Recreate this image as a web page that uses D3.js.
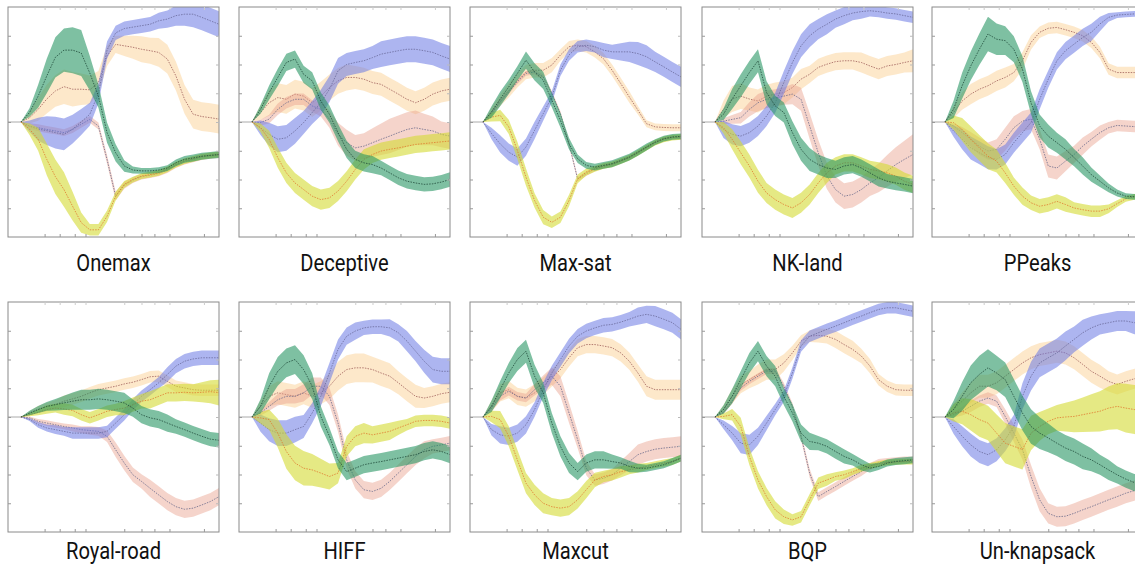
<!DOCTYPE html>
<html>
<head>
<meta charset="utf-8">
<script src="https://cdn.jsdelivr.net/npm/d3@7"></script>
<style>
  body { margin: 0; background: #fff; }
  svg { display: block; }
  .title { font-family: Roboto, "Liberation Sans", sans-serif; font-size: 24px; fill: #111; }
</style>
</head>
<body>
<div id="viz"></div>
<script>
// panel names, left to right, top row then bottom row
var panelNames = ['Onemax', 'Deceptive', 'Max-sat', 'NK-land', 'PPeaks',
                  'Royal-road', 'HIFF', 'Maxcut', 'BQP', 'Un-knapsack'];

// sample positions along the run (x axis, 0..98)
var xSteps = [6, 10, 14, 18, 22, 26, 30, 34, 38, 42, 46, 50, 54, 58, 62, 66, 70, 74, 78, 82, 86, 90, 94, 98];
var xTicks = [17, 24, 31, 36, 54, 62, 68, 75, 91];
var yTicks = [-3, -2, -1, 0, 1, 2, 3];

// mean curves, one row per panel (same order as panelNames)
var blueMean = [
  [0, -0.15, -0.25, -0.3, -0.37, -0.43, -0.25, 0, 0.27, 1.0, 2.5, 3.1, 3.25, 3.3, 3.35, 3.4, 3.52, 3.58, 3.7, 3.75, 3.75, 3.64, 3.52, 3.4],
  [0, -0.2, -0.43, -0.6, -0.55, -0.31, -0.02, 0.33, 0.67, 1.14, 1.78, 2.0, 2.07, 2.13, 2.24, 2.36, 2.42, 2.48, 2.53, 2.53, 2.48, 2.42, 2.3, 2.19],
  [0, -0.4, -0.76, -1.05, -1.22, -0.87, -0.29, 0.29, 0.87, 1.8, 2.33, 2.62, 2.67, 2.62, 2.5, 2.44, 2.44, 2.44, 2.38, 2.27, 2.09, 1.92, 1.74, 1.57],
  [0, -0.26, -0.43, -0.49, -0.37, -0.14, 0.21, 0.67, 1.37, 2.07, 2.65, 3.0, 3.23, 3.4, 3.58, 3.7, 3.79, 3.84, 3.87, 3.84, 3.79, 3.76, 3.7, 3.64],
  [0, -0.31, -0.6, -0.9, -1.07, -1.24, -1.3, -1.13, -0.72, -0.37, -0.02, 0.79, 1.49, 2.13, 2.48, 2.71, 2.94, 3.12, 3.41, 3.64, 3.72, 3.74, 3.76, 3.76],
  [0, -0.09, -0.27, -0.38, -0.44, -0.5, -0.56, -0.56, -0.56, -0.56, -0.5, -0.21, 0.08, 0.43, 0.72, 0.95, 1.19, 1.48, 1.77, 1.94, 2.02, 2.06, 2.06, 2.06],
  [0, -0.21, -0.44, -0.56, -0.56, -0.44, -0.33, 0.14, 0.72, 1.53, 2.35, 2.81, 2.99, 3.1, 3.14, 3.14, 3.1, 2.93, 2.64, 2.29, 1.94, 1.65, 1.59, 1.59],
  [0, -0.44, -0.62, -0.67, -0.56, -0.27, 0.26, 0.95, 1.53, 2.0, 2.47, 2.81, 2.99, 3.1, 3.19, 3.22, 3.3, 3.4, 3.51, 3.57, 3.51, 3.4, 3.28, 3.05],
  [0, -0.27, -0.56, -0.91, -0.97, -0.67, -0.21, 0.26, 0.72, 1.53, 2.47, 2.81, 2.93, 3.05, 3.16, 3.28, 3.4, 3.51, 3.63, 3.74, 3.8, 3.8, 3.74, 3.68],
  [0, -0.33, -0.67, -0.97, -1.2, -1.31, -1.14, -0.79, -0.33, 0.72, 1.42, 1.88, 2.06, 2.23, 2.47, 2.7, 2.93, 3.1, 3.22, 3.28, 3.34, 3.34, 3.28, 3.28]
];
var blueSpread = [
  [0, 0.2, 0.4, 0.5, 0.55, 0.55, 0.5, 0.45, 0.4, 0.35, 0.3, 0.25, 0.25, 0.25, 0.25, 0.25, 0.28, 0.3, 0.35, 0.4, 0.45, 0.45, 0.45, 0.45],
  [0, 0.25, 0.4, 0.45, 0.45, 0.45, 0.4, 0.4, 0.45, 0.45, 0.45, 0.4, 0.4, 0.4, 0.4, 0.45, 0.45, 0.45, 0.45, 0.45, 0.45, 0.45, 0.45, 0.45],
  [0, 0.2, 0.3, 0.3, 0.3, 0.3, 0.3, 0.25, 0.2, 0.2, 0.2, 0.2, 0.2, 0.2, 0.25, 0.25, 0.3, 0.35, 0.4, 0.4, 0.35, 0.35, 0.35, 0.35],
  [0, 0.3, 0.35, 0.35, 0.35, 0.35, 0.35, 0.35, 0.4, 0.4, 0.4, 0.4, 0.35, 0.35, 0.3, 0.3, 0.25, 0.25, 0.2, 0.2, 0.2, 0.2, 0.2, 0.2],
  [0, 0.2, 0.35, 0.4, 0.4, 0.4, 0.35, 0.35, 0.35, 0.35, 0.35, 0.35, 0.3, 0.3, 0.3, 0.3, 0.3, 0.3, 0.25, 0.15, 0.1, 0.1, 0.1, 0.1],
  [0, 0.05, 0.1, 0.12, 0.15, 0.15, 0.2, 0.2, 0.2, 0.2, 0.2, 0.2, 0.2, 0.2, 0.2, 0.2, 0.2, 0.25, 0.25, 0.25, 0.25, 0.25, 0.25, 0.25],
  [0, 0.3, 0.4, 0.45, 0.45, 0.45, 0.4, 0.35, 0.35, 0.35, 0.35, 0.3, 0.3, 0.25, 0.25, 0.25, 0.3, 0.3, 0.35, 0.35, 0.4, 0.45, 0.45, 0.45],
  [0, 0.2, 0.3, 0.3, 0.3, 0.3, 0.25, 0.25, 0.25, 0.25, 0.25, 0.25, 0.25, 0.25, 0.25, 0.25, 0.25, 0.25, 0.3, 0.3, 0.35, 0.35, 0.35, 0.35],
  [0, 0.15, 0.25, 0.35, 0.35, 0.3, 0.25, 0.2, 0.2, 0.2, 0.2, 0.2, 0.2, 0.2, 0.2, 0.2, 0.2, 0.2, 0.2, 0.2, 0.2, 0.2, 0.2, 0.2],
  [0, 0.25, 0.35, 0.4, 0.4, 0.4, 0.4, 0.4, 0.4, 0.45, 0.5, 0.5, 0.5, 0.5, 0.5, 0.45, 0.45, 0.4, 0.35, 0.35, 0.35, 0.35, 0.4, 0.4]
];

var peachMean = [
  [0, 0.15, 0.44, 0.8, 1.08, 1.23, 1.14, 1.14, 1.12, 1.37, 2.3, 2.7, 2.65, 2.6, 2.53, 2.48, 2.42, 2.19, 1.6, 0.79, 0.27, 0.19, 0.15, 0.1],
  [0, 0.33, 0.67, 0.85, 0.79, 0.97, 0.9, 0.67, 0.9, 1.2, 1.43, 1.55, 1.55, 1.49, 1.37, 1.31, 1.14, 0.97, 0.79, 0.67, 0.79, 0.97, 1.08, 1.14],
  [0, 0.35, 0.76, 1.1, 1.45, 1.74, 1.8, 1.8, 1.98, 2.33, 2.62, 2.67, 2.62, 2.44, 2.2, 1.8, 1.34, 0.87, 0.41, -0.06, -0.17, -0.19, -0.2, -0.2],
  [0, 0.44, 0.8, 0.9, 0.8, 0.73, 0.9, 0.97, 1.02, 1.2, 1.49, 1.66, 1.9, 2.01, 2.1, 2.13, 2.13, 2.07, 1.95, 1.84, 1.95, 2.0, 2.07, 2.13],
  [0, 0.33, 0.73, 0.97, 1.14, 1.26, 1.43, 1.55, 1.72, 2.13, 2.77, 3.12, 3.26, 3.29, 3.21, 3.12, 3.0, 2.77, 2.42, 1.84, 1.72, 1.72, 1.72, 1.72],
  [0, 0.12, 0.26, 0.35, 0.43, 0.55, 0.63, 0.72, 0.84, 0.95, 1.01, 1.07, 1.15, 1.21, 1.3, 1.4, 1.42, 1.24, 1.07, 1.01, 0.95, 0.93, 0.93, 0.93],
  [0, 0.37, 0.72, 0.84, 0.78, 0.72, 0.84, 0.72, 0.84, 1.07, 1.42, 1.65, 1.71, 1.71, 1.65, 1.53, 1.42, 1.19, 0.95, 0.72, 0.66, 0.72, 0.81, 0.86],
  [0, 0.37, 0.84, 0.95, 0.72, 0.66, 0.84, 1.07, 1.36, 1.65, 2.06, 2.41, 2.52, 2.52, 2.47, 2.41, 2.23, 1.94, 1.53, 1.07, 0.95, 0.95, 0.95, 0.95],
  [0, 0.26, 0.72, 1.13, 1.3, 1.48, 1.65, 1.65, 1.88, 2.23, 2.64, 2.81, 2.84, 2.81, 2.7, 2.52, 2.35, 2.12, 1.77, 1.3, 1.07, 0.95, 0.93, 0.93],
  [0, 0.26, 0.55, 0.84, 1.07, 1.07, 1.19, 1.42, 1.65, 1.88, 2.06, 2.17, 2.23, 2.29, 2.23, 2.06, 1.83, 1.59, 1.42, 1.24, 1.13, 1.24, 1.33, 1.36]
];
var peachSpread = [
  [0, 0.2, 0.4, 0.5, 0.55, 0.6, 0.6, 0.55, 0.5, 0.4, 0.35, 0.3, 0.35, 0.4, 0.45, 0.45, 0.5, 0.5, 0.5, 0.5, 0.5, 0.5, 0.5, 0.5],
  [0, 0.25, 0.45, 0.5, 0.5, 0.5, 0.5, 0.5, 0.5, 0.45, 0.45, 0.45, 0.4, 0.4, 0.4, 0.4, 0.4, 0.4, 0.4, 0.4, 0.4, 0.4, 0.4, 0.4],
  [0, 0.15, 0.2, 0.25, 0.25, 0.25, 0.25, 0.25, 0.25, 0.2, 0.2, 0.2, 0.2, 0.2, 0.2, 0.2, 0.2, 0.2, 0.15, 0.12, 0.12, 0.12, 0.12, 0.12],
  [0, 0.3, 0.45, 0.45, 0.4, 0.4, 0.4, 0.4, 0.4, 0.35, 0.35, 0.3, 0.3, 0.3, 0.3, 0.3, 0.3, 0.35, 0.35, 0.35, 0.35, 0.35, 0.35, 0.4],
  [0, 0.2, 0.3, 0.35, 0.35, 0.35, 0.35, 0.35, 0.3, 0.3, 0.25, 0.2, 0.2, 0.2, 0.2, 0.2, 0.2, 0.2, 0.2, 0.2, 0.2, 0.2, 0.2, 0.2],
  [0, 0.08, 0.12, 0.15, 0.15, 0.2, 0.2, 0.2, 0.2, 0.2, 0.2, 0.2, 0.2, 0.2, 0.2, 0.2, 0.2, 0.2, 0.2, 0.2, 0.2, 0.2, 0.2, 0.2],
  [0, 0.2, 0.35, 0.4, 0.4, 0.4, 0.4, 0.4, 0.4, 0.45, 0.5, 0.5, 0.5, 0.5, 0.45, 0.45, 0.45, 0.4, 0.4, 0.4, 0.35, 0.35, 0.35, 0.35],
  [0, 0.2, 0.3, 0.3, 0.3, 0.3, 0.3, 0.3, 0.3, 0.3, 0.3, 0.3, 0.3, 0.3, 0.3, 0.3, 0.3, 0.3, 0.3, 0.35, 0.35, 0.35, 0.35, 0.35],
  [0, 0.15, 0.25, 0.3, 0.3, 0.35, 0.35, 0.35, 0.3, 0.25, 0.2, 0.2, 0.25, 0.25, 0.3, 0.3, 0.3, 0.25, 0.25, 0.2, 0.2, 0.2, 0.2, 0.2],
  [0, 0.2, 0.3, 0.35, 0.4, 0.4, 0.4, 0.4, 0.4, 0.4, 0.4, 0.4, 0.4, 0.4, 0.4, 0.4, 0.4, 0.4, 0.4, 0.35, 0.35, 0.35, 0.35, 0.35]
];

var greenMean = [
  [0, 0.33, 0.9, 1.6, 2.25, 2.5, 2.5, 2.4, 1.7, 0.9, -0.37, -1.07, -1.53, -1.67, -1.7, -1.7, -1.67, -1.6, -1.42, -1.3, -1.25, -1.19, -1.16, -1.13],
  [0, 0.44, 1.02, 1.55, 2.07, 2.19, 1.66, 1.43, 0.73, 0.27, -0.37, -0.95, -1.3, -1.42, -1.48, -1.6, -1.77, -1.94, -2.06, -2.12, -2.17, -2.15, -2.09, -2.0],
  [0, 0.35, 0.8, 1.22, 1.69, 2.15, 1.74, 1.45, 0.76, 0.06, -0.76, -1.28, -1.51, -1.57, -1.51, -1.45, -1.34, -1.22, -1.05, -0.87, -0.7, -0.58, -0.52, -0.5],
  [0, 0.27, 0.8, 1.26, 1.72, 2.13, 1.02, 0.56, 0.33, -0.37, -0.95, -1.3, -1.48, -1.6, -1.65, -1.53, -1.48, -1.6, -1.77, -1.94, -2.06, -2.12, -2.17, -2.23],
  [0, 0.44, 1.26, 1.95, 2.53, 3.06, 2.88, 2.83, 2.53, 1.84, 0.67, -0.14, -0.49, -0.72, -0.95, -1.24, -1.53, -1.83, -2.06, -2.29, -2.47, -2.58, -2.6, -2.6],
  [0, 0.14, 0.26, 0.37, 0.43, 0.49, 0.55, 0.6, 0.6, 0.63, 0.6, 0.55, 0.49, 0.31, 0.08, -0.03, -0.09, -0.21, -0.33, -0.44, -0.56, -0.67, -0.77, -0.81],
  [0, 0.37, 1.07, 1.59, 1.88, 2.0, 1.65, 1.07, 0.02, -0.67, -1.49, -1.9, -1.78, -1.66, -1.6, -1.55, -1.49, -1.43, -1.37, -1.31, -1.2, -1.14, -1.2, -1.31],
  [0, 0.37, 0.95, 1.53, 2.0, 2.29, 1.42, 0.84, -0.21, -1.02, -1.6, -1.9, -1.6, -1.49, -1.49, -1.55, -1.6, -1.72, -1.78, -1.78, -1.72, -1.66, -1.55, -1.43],
  [0, 0.26, 0.72, 1.3, 1.88, 2.29, 1.77, 1.42, 0.72, 0.14, -0.56, -0.85, -0.91, -1.02, -1.2, -1.37, -1.49, -1.66, -1.78, -1.72, -1.6, -1.55, -1.52, -1.49],
  [0, 0.26, 0.72, 1.19, 1.48, 1.71, 1.53, 1.3, 0.72, 0.14, -0.33, -0.56, -0.73, -0.91, -1.08, -1.2, -1.37, -1.49, -1.66, -1.84, -2.01, -2.16, -2.28, -2.36]
];
var greenSpread = [
  [0, 0.15, 0.4, 0.6, 0.7, 0.75, 0.8, 0.8, 0.6, 0.4, 0.35, 0.3, 0.2, 0.12, 0.1, 0.1, 0.1, 0.1, 0.12, 0.12, 0.12, 0.12, 0.12, 0.12],
  [0, 0.15, 0.25, 0.3, 0.3, 0.3, 0.3, 0.3, 0.3, 0.3, 0.3, 0.3, 0.3, 0.3, 0.3, 0.25, 0.25, 0.25, 0.25, 0.25, 0.25, 0.25, 0.25, 0.25],
  [0, 0.2, 0.25, 0.25, 0.25, 0.3, 0.3, 0.3, 0.25, 0.25, 0.2, 0.15, 0.12, 0.12, 0.12, 0.12, 0.12, 0.12, 0.12, 0.12, 0.1, 0.1, 0.1, 0.1],
  [0, 0.2, 0.35, 0.4, 0.4, 0.4, 0.4, 0.35, 0.35, 0.4, 0.4, 0.4, 0.35, 0.35, 0.3, 0.3, 0.3, 0.3, 0.3, 0.3, 0.25, 0.25, 0.25, 0.25],
  [0, 0.3, 0.45, 0.5, 0.55, 0.6, 0.55, 0.5, 0.45, 0.45, 0.4, 0.4, 0.4, 0.35, 0.35, 0.3, 0.3, 0.25, 0.2, 0.15, 0.12, 0.1, 0.1, 0.1],
  [0, 0.08, 0.12, 0.15, 0.2, 0.25, 0.3, 0.35, 0.35, 0.35, 0.35, 0.35, 0.35, 0.3, 0.3, 0.3, 0.3, 0.3, 0.25, 0.25, 0.25, 0.25, 0.25, 0.25],
  [0, 0.25, 0.45, 0.5, 0.5, 0.5, 0.5, 0.45, 0.35, 0.3, 0.3, 0.3, 0.3, 0.3, 0.3, 0.3, 0.3, 0.3, 0.3, 0.3, 0.3, 0.3, 0.3, 0.3],
  [0, 0.2, 0.3, 0.35, 0.4, 0.4, 0.4, 0.35, 0.35, 0.35, 0.35, 0.3, 0.3, 0.3, 0.3, 0.25, 0.2, 0.2, 0.15, 0.12, 0.12, 0.12, 0.12, 0.12],
  [0, 0.15, 0.25, 0.3, 0.35, 0.35, 0.35, 0.35, 0.3, 0.3, 0.3, 0.3, 0.25, 0.25, 0.25, 0.25, 0.2, 0.2, 0.15, 0.12, 0.12, 0.12, 0.12, 0.12],
  [0, 0.3, 0.5, 0.6, 0.65, 0.65, 0.6, 0.6, 0.6, 0.6, 0.6, 0.55, 0.5, 0.45, 0.45, 0.45, 0.45, 0.4, 0.35, 0.35, 0.3, 0.3, 0.3, 0.3]
];

var yellowMean = [
  [0, -0.25, -0.6, -1.3, -1.9, -2.35, -2.93, -3.5, -3.75, -3.75, -3.28, -2.58, -2.17, -2.0, -1.88, -1.83, -1.77, -1.65, -1.48, -1.36, -1.28, -1.2, -1.16, -1.13],
  [0, -0.2, -0.6, -1.24, -1.77, -2.12, -2.35, -2.58, -2.7, -2.64, -2.4, -2.06, -1.65, -1.3, -1.13, -1.01, -0.95, -0.9, -0.84, -0.78, -0.75, -0.72, -0.69, -0.66],
  [0, 0.17, 0.23, -0.17, -0.99, -1.92, -2.73, -3.31, -3.49, -3.31, -2.73, -1.98, -1.74, -1.63, -1.53, -1.47, -1.36, -1.24, -1.07, -0.89, -0.72, -0.6, -0.54, -0.52],
  [0, -0.2, -0.6, -1.07, -1.53, -2.06, -2.47, -2.7, -2.87, -2.99, -2.81, -2.52, -2.12, -1.77, -1.53, -1.42, -1.42, -1.53, -1.65, -1.7, -1.77, -1.88, -2.06, -2.17],
  [0, -0.02, -0.26, -0.6, -0.9, -1.19, -1.36, -1.77, -2.23, -2.58, -2.81, -2.93, -2.87, -2.76, -2.87, -2.99, -3.05, -3.1, -3.1, -3.02, -2.84, -2.67, -2.6, -2.58],
  [0, 0.08, 0.16, 0.26, 0.31, 0.28, 0.23, 0.08, -0.03, 0.08, 0.2, 0.26, 0.31, 0.43, 0.55, 0.6, 0.72, 0.84, 0.84, 0.86, 0.84, 0.86, 0.88, 0.85],
  [0, -0.03, -0.09, -0.56, -1.2, -1.6, -1.78, -1.84, -1.95, -2.07, -1.95, -1.02, -0.67, -0.56, -0.62, -0.56, -0.5, -0.38, -0.27, -0.15, -0.12, -0.12, -0.15, -0.21],
  [0, 0.02, -0.09, -0.67, -1.49, -2.3, -2.71, -3.0, -3.12, -3.17, -3.12, -2.88, -2.53, -2.19, -2.07, -2.01, -1.9, -1.84, -1.78, -1.72, -1.66, -1.6, -1.55, -1.43],
  [0, 0.02, 0.08, -0.33, -1.37, -2.19, -2.77, -3.23, -3.47, -3.58, -3.47, -2.88, -2.3, -2.19, -2.07, -2.01, -1.9, -1.78, -1.7, -1.63, -1.58, -1.56, -1.55, -1.55],
  [0, 0.14, 0.2, 0.08, -0.09, -0.21, -0.56, -0.91, -1.02, -1.13, -0.56, -0.33, -0.15, -0.03, 0, 0.02, 0.08, 0.14, 0.2, 0.31, 0.37, 0.31, 0.26, 0.2]
];
var yellowSpread = [
  [0, 0.2, 0.4, 0.55, 0.6, 0.6, 0.5, 0.35, 0.2, 0.2, 0.2, 0.15, 0.12, 0.1, 0.1, 0.1, 0.1, 0.1, 0.1, 0.1, 0.1, 0.1, 0.1, 0.1],
  [0, 0.15, 0.3, 0.35, 0.35, 0.35, 0.35, 0.35, 0.35, 0.35, 0.35, 0.35, 0.35, 0.35, 0.3, 0.3, 0.3, 0.3, 0.3, 0.3, 0.3, 0.3, 0.3, 0.3],
  [0, 0.15, 0.2, 0.25, 0.3, 0.3, 0.25, 0.25, 0.2, 0.2, 0.2, 0.15, 0.12, 0.1, 0.1, 0.1, 0.1, 0.1, 0.1, 0.1, 0.1, 0.1, 0.1, 0.1],
  [0, 0.2, 0.35, 0.4, 0.4, 0.4, 0.35, 0.35, 0.35, 0.35, 0.35, 0.35, 0.35, 0.35, 0.3, 0.3, 0.3, 0.3, 0.3, 0.3, 0.3, 0.3, 0.3, 0.3],
  [0, 0.25, 0.4, 0.45, 0.45, 0.45, 0.4, 0.35, 0.3, 0.3, 0.25, 0.25, 0.25, 0.25, 0.25, 0.2, 0.2, 0.2, 0.2, 0.15, 0.12, 0.1, 0.1, 0.1],
  [0, 0.05, 0.1, 0.15, 0.15, 0.2, 0.2, 0.2, 0.2, 0.2, 0.2, 0.2, 0.25, 0.25, 0.25, 0.3, 0.3, 0.3, 0.3, 0.3, 0.3, 0.35, 0.4, 0.45],
  [0, 0.2, 0.35, 0.5, 0.6, 0.6, 0.6, 0.55, 0.5, 0.45, 0.35, 0.35, 0.35, 0.35, 0.3, 0.3, 0.3, 0.25, 0.2, 0.2, 0.2, 0.2, 0.2, 0.2],
  [0, 0.2, 0.3, 0.35, 0.35, 0.35, 0.35, 0.35, 0.3, 0.3, 0.3, 0.3, 0.3, 0.25, 0.2, 0.2, 0.2, 0.15, 0.15, 0.12, 0.12, 0.12, 0.12, 0.12],
  [0, 0.1, 0.2, 0.3, 0.3, 0.3, 0.3, 0.3, 0.25, 0.2, 0.2, 0.2, 0.2, 0.2, 0.15, 0.15, 0.12, 0.12, 0.1, 0.1, 0.1, 0.1, 0.1, 0.1],
  [0, 0.3, 0.45, 0.55, 0.6, 0.6, 0.65, 0.7, 0.7, 0.7, 0.6, 0.5, 0.45, 0.45, 0.5, 0.55, 0.6, 0.65, 0.7, 0.75, 0.8, 0.85, 0.85, 0.9]
];

var pinkMean = [
  [0, -0.14, -0.2, -0.26, -0.31, -0.37, -0.26, -0.08, 0.09, -0.14, -1.3, -2.58, -2.2, -2.02, -1.9, -1.85, -1.79, -1.67, -1.5, -1.38, -1.3, -1.22, -1.18, -1.15],
  [0, -0.02, 0.1, 0.44, 0.67, 0.79, 0.79, 0.56, 0.44, 0.1, -0.43, -0.72, -0.9, -0.84, -0.72, -0.6, -0.49, -0.37, -0.26, -0.2, -0.26, -0.31, -0.43, -0.49],
  [0, 0.29, 0.7, 1.05, 1.4, 1.69, 1.74, 1.57, 1.0, 0.29, -0.76, -1.98, -1.8, -1.63, -1.54, -1.47, -1.36, -1.24, -1.07, -0.89, -0.72, -0.6, -0.54, -0.52],
  [0, 0.03, 0.09, 0.15, 0.44, 0.67, 0.79, 0.84, 0.9, 0.97, 0.79, -0.14, -1.07, -1.88, -2.35, -2.58, -2.52, -2.35, -2.12, -1.94, -1.7, -1.48, -1.3, -1.13],
  [0, -0.14, -0.37, -0.6, -0.84, -1.01, -0.95, -0.6, -0.2, 0.03, 0.1, -0.6, -1.53, -1.6, -1.36, -1.13, -0.84, -0.6, -0.37, -0.2, -0.12, -0.14, -0.16, -0.16],
  [0, -0.03, -0.15, -0.21, -0.27, -0.33, -0.38, -0.44, -0.47, -0.5, -0.67, -1.14, -1.6, -2.01, -2.24, -2.48, -2.71, -2.94, -3.12, -3.21, -3.17, -3.06, -2.94, -2.77],
  [0, 0.14, 0.37, 0.6, 0.72, 0.72, 0.84, 1.07, 1.07, 0.72, -0.21, -1.49, -2.19, -2.53, -2.59, -2.48, -2.24, -1.95, -1.66, -1.37, -1.14, -1.02, -0.97, -0.91],
  [0, 0.31, 0.72, 0.9, 0.72, 0.66, 0.95, 1.19, 1.42, 1.07, 0.14, -0.79, -1.78, -2.19, -2.13, -2.01, -1.78, -1.55, -1.31, -1.2, -1.12, -1.08, -1.05, -1.02],
  [0, 0.16, 0.55, 1.01, 1.24, 1.42, 1.6, 1.6, 1.07, 0.37, -0.67, -1.95, -2.77, -2.59, -2.42, -2.24, -2.07, -1.9, -1.72, -1.58, -1.55, -1.52, -1.49, -1.49],
  [0, 0.08, 0.2, 0.37, 0.55, 0.66, 0.55, 0.02, -0.56, -1.13, -2.07, -2.88, -3.35, -3.47, -3.45, -3.35, -3.23, -3.12, -3.0, -2.88, -2.77, -2.65, -2.56, -2.48]
];
var pinkSpread = [
  [0, 0.1, 0.12, 0.12, 0.12, 0.12, 0.12, 0.12, 0.12, 0.12, 0.15, 0.15, 0.12, 0.1, 0.1, 0.1, 0.1, 0.1, 0.1, 0.1, 0.1, 0.1, 0.1, 0.1],
  [0, 0.1, 0.15, 0.2, 0.2, 0.2, 0.2, 0.2, 0.25, 0.3, 0.4, 0.45, 0.45, 0.45, 0.5, 0.55, 0.6, 0.6, 0.6, 0.6, 0.55, 0.5, 0.45, 0.45],
  [0, 0.08, 0.08, 0.08, 0.08, 0.08, 0.08, 0.08, 0.08, 0.08, 0.08, 0.08, 0.08, 0.08, 0.08, 0.08, 0.08, 0.08, 0.08, 0.08, 0.08, 0.08, 0.08, 0.08],
  [0, 0.1, 0.15, 0.2, 0.25, 0.3, 0.3, 0.3, 0.3, 0.35, 0.4, 0.45, 0.45, 0.45, 0.45, 0.45, 0.45, 0.45, 0.45, 0.5, 0.55, 0.6, 0.65, 0.7],
  [0, 0.1, 0.2, 0.25, 0.3, 0.3, 0.35, 0.4, 0.4, 0.35, 0.35, 0.35, 0.4, 0.4, 0.35, 0.3, 0.3, 0.25, 0.25, 0.2, 0.2, 0.2, 0.2, 0.2],
  [0, 0.05, 0.08, 0.1, 0.1, 0.1, 0.12, 0.12, 0.15, 0.15, 0.2, 0.25, 0.25, 0.25, 0.25, 0.3, 0.3, 0.3, 0.3, 0.3, 0.3, 0.3, 0.3, 0.3],
  [0, 0.1, 0.15, 0.2, 0.25, 0.25, 0.3, 0.3, 0.3, 0.3, 0.3, 0.3, 0.3, 0.3, 0.3, 0.3, 0.3, 0.3, 0.3, 0.3, 0.3, 0.25, 0.25, 0.25],
  [0, 0.1, 0.15, 0.15, 0.15, 0.15, 0.2, 0.25, 0.3, 0.35, 0.35, 0.3, 0.25, 0.2, 0.2, 0.2, 0.25, 0.3, 0.35, 0.35, 0.35, 0.35, 0.35, 0.35],
  [0, 0.05, 0.08, 0.1, 0.1, 0.1, 0.1, 0.1, 0.12, 0.12, 0.12, 0.15, 0.15, 0.15, 0.15, 0.15, 0.15, 0.15, 0.12, 0.12, 0.12, 0.12, 0.12, 0.12],
  [0, 0.1, 0.15, 0.2, 0.2, 0.2, 0.2, 0.25, 0.3, 0.35, 0.4, 0.4, 0.35, 0.35, 0.35, 0.35, 0.35, 0.35, 0.35, 0.35, 0.35, 0.35, 0.35, 0.35]
];

// drawing order: back to front
var series = [
  { mean: peachMean,  spread: peachSpread,  fill: 'rgba(252,210,150,0.5)', line: '#a0605a' },
  { mean: pinkMean,   spread: pinkSpread,   fill: 'rgba(232,160,140,0.45)', line: '#6a6a8a' },
  { mean: blueMean,   spread: blueSpread,   fill: 'rgba(105,120,228,0.55)', line: '#6a6a9a' },
  { mean: yellowMean, spread: yellowSpread, fill: 'rgba(212,218,50,0.6)',  line: '#e07a30' },
  { mean: greenMean,  spread: greenSpread,  fill: 'rgba(40,150,100,0.6)',  line: '#1f4a3a' }
];

var W = 1135, H = 567,
    pw = 211, ph = 230,
    colLeft = [8, 239, 470, 702, 932],
    rowTop = [7, 302],
    titleGap = [34, 27];

var svg = d3.select('#viz').append('svg')
    .attr('width', W)
    .attr('height', H);

var x = d3.scaleLinear().domain([0, 98]).range([0, pw]);
var y = d3.scaleLinear().domain([-4, 4]).range([ph, 0]);

var area = d3.area()
    .x(function(d) { return x(d.x); })
    .y0(function(d) { return y(d.m - d.s); })
    .y1(function(d) { return y(d.m + d.s); });

var line = d3.line()
    .x(function(d) { return x(d.x); })
    .y(function(d) { return y(d.m); });

panelNames.forEach(function(name, p) {
    var row = Math.floor(p / 5);
    var g = svg.append('g')
        .attr('transform', 'translate(' + colLeft[p % 5] + ',' + rowTop[row] + ')');

    g.append('clipPath').attr('id', 'clip' + p)
        .append('rect').attr('width', pw).attr('height', ph);

    var plot = g.append('g').attr('clip-path', 'url(#clip' + p + ')');

    // flat lead-in before the first sample
    plot.append('line')
        .attr('x1', x(0)).attr('x2', x(xSteps[0]))
        .attr('y1', y(0)).attr('y2', y(0))
        .attr('stroke', '#aaa')
        .attr('stroke-width', 1);

    series.forEach(function(s) {
        var pts = xSteps.map(function(xv, i) {
            return { x: xv, m: s.mean[p][i], s: s.spread[p][i] };
        });
        plot.append('path')
            .attr('d', area(pts))
            .attr('fill', s.fill);
        plot.append('path')
            .attr('d', line(pts))
            .attr('fill', 'none')
            .attr('stroke', s.line)
            .attr('stroke-width', 0.8)
            .attr('stroke-dasharray', '1.5,1.2');
    });

    // frame and inward ticks
    g.append('rect')
        .attr('width', pw).attr('height', ph)
        .attr('fill', 'none')
        .attr('stroke', '#8a8a8a')
        .attr('stroke-width', 1);

    g.append('g').call(d3.axisRight(y).tickValues(yTicks).tickSize(3).tickFormat(''))
        .call(function(a) { a.select('.domain').remove(); a.selectAll('line').attr('stroke', '#999'); });
    g.append('g').attr('transform', 'translate(' + pw + ',0)')
        .call(d3.axisLeft(y).tickValues(yTicks).tickSize(3).tickFormat(''))
        .call(function(a) { a.select('.domain').remove(); a.selectAll('line').attr('stroke', '#bbb'); });
    g.append('g').attr('transform', 'translate(0,' + ph + ')')
        .call(d3.axisTop(x).tickValues(xTicks).tickSize(3).tickFormat(''))
        .call(function(a) { a.select('.domain').remove(); a.selectAll('line').attr('stroke', '#999'); });
    g.append('g')
        .call(d3.axisBottom(x).tickValues(xTicks).tickSize(3).tickFormat(''))
        .call(function(a) { a.select('.domain').remove(); a.selectAll('line').attr('stroke', '#ccc'); });

    // condensed title under the panel
    g.append('text')
        .attr('class', 'title')
        .attr('text-anchor', 'middle')
        .attr('transform', 'translate(' + (pw / 2) + ',' + (ph + titleGap[row]) + ') scale(0.84,1)')
        .text(name);
});
</script>
</body>
</html>
